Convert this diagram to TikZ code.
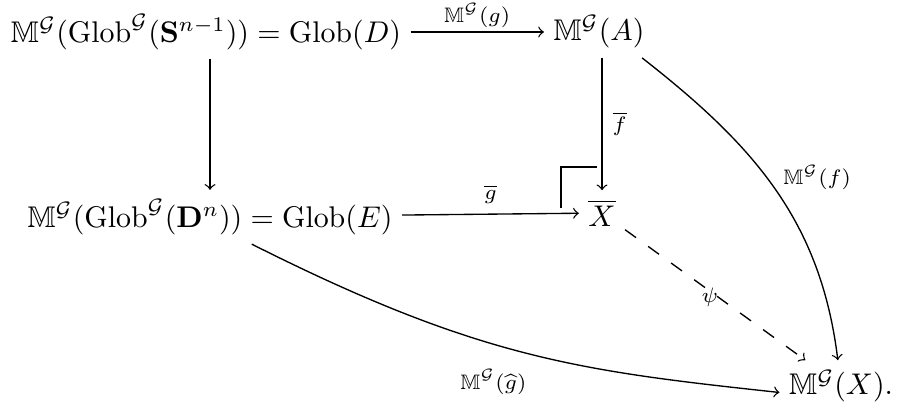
\documentclass[tikz,border=0pt]{standalone}
\usepackage{amsmath,amssymb}
\begin{document}
\begin{tikzpicture}[x=0.3346pt,y=-0.3346pt,
  obj/.style={inner sep=3pt},
  lbl/.style={font=\scriptsize},
  arr/.style={->,line width=0.45pt}]
\useasboundingbox (0,0) rectangle (900,412);
\node[obj] (D) at (206,32) {$\mathbb{M}^{\mathcal{G}}(\mathrm{Glob}^{\mathcal{G}}(\mathbf{S}^{n-1})) = \mathrm{Glob}(D)$};
\node[obj] (A) at (599,32) {$\mathbb{M}^{\mathcal{G}}(A)$};
\node[obj] (E) at (210,217) {$\mathbb{M}^{\mathcal{G}}(\mathrm{Glob}^{\mathcal{G}}(\mathbf{D}^{n})) = \mathrm{Glob}(E)$};
\node[obj] (Xb) at (602,213) {$\overline{X}$};
\node[obj] (X) at (841,386) {$\mathbb{M}^{\mathcal{G}}(X).$};
\coordinate (c1) at (561,208);
\coordinate (c2) at (561,167);
\coordinate (c3) at (597,167);
\coordinate (k1) at (480,359);
\coordinate (k2) at (581,371);
\draw[arr] (D) -- (A) node[midway,above=-2pt,lbl] {$\mathbb{M}^{\mathcal{G}}(g)$};
\draw[arr] (D.south -| E.north) -- (E);
\draw[arr] (A.south -| Xb.north) -- (Xb) node[midway,right,lbl] {$\overline{f}$};
\draw[arr] (E) -- (Xb) node[midway,above,lbl] {$\overline{g}$};
\draw[line width=0.8pt] (c1) -- (c2) -- (c3);
\draw[arr] (A.-31) to[out=-38,in=97] node[pos=0.46,right,lbl,xshift=2pt] {$\mathbb{M}^{\mathcal{G}}(f)$} (X);
\draw[arr,dash pattern=on 4.5pt off 5pt] (Xb) -- (X) node[pos=0.47,lbl,yshift=-2pt] {$\psi$};
\draw[arr] (E.-33) .. controls (k1) and (k2) .. node[pos=0.43,below,lbl,yshift=-5pt] {$\mathbb{M}^{\mathcal{G}}(\widehat{g})$} (X.186);
\end{tikzpicture}
\end{document}
